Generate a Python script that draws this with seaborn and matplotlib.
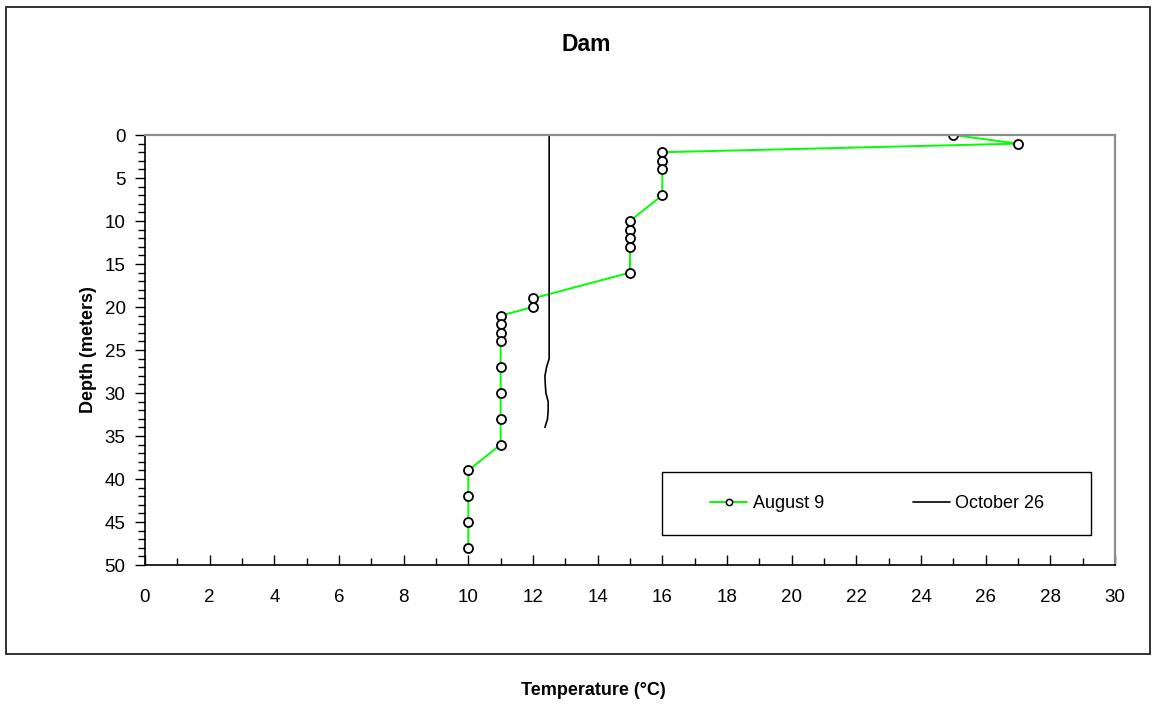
import matplotlib
matplotlib.use("Agg")
import matplotlib.pyplot as plt
import seaborn as sns
import pandas as pd
from matplotlib.patches import Rectangle
from matplotlib.ticker import MultipleLocator
from matplotlib.lines import Line2D

# ---- data ----
aug_temp = [25, 27, 16, 16, 16, 16, 15, 15, 15, 15, 15, 12, 12, 11, 11, 11, 11, 11, 11, 11, 11, 10, 10, 10, 10]
aug_depth = [0, 1, 2, 3, 4, 7, 10, 11, 12, 13, 16, 19, 20, 21, 22, 23, 24, 27, 30, 33, 36, 39, 42, 45, 48]

oct_depth = list(range(0, 35))
oct_temp = [12.5] * 27 + [12.42, 12.37, 12.38, 12.40, 12.47, 12.47, 12.45, 12.37]

title = "Dam"
xlabel = "Temperature (°C)"
ylabel = "Depth (meters)"
legend_labels = ["August 9", "October 26"]

sns.set_theme(style="white")
plt.rcParams["font.family"] = ["Liberation Sans", "DejaVu Sans"]
plt.rcParams["text.color"] = "black"
plt.rcParams["axes.labelcolor"] = "black"
plt.rcParams["xtick.color"] = "black"
plt.rcParams["ytick.color"] = "black"

fig = plt.figure(figsize=(11.59, 7.11), dpi=100)
fig.patch.set_facecolor("white")
ax = fig.add_axes([0.1251, 0.2053, 0.8369, 0.6048])

df_aug = pd.DataFrame({"t": aug_temp, "d": aug_depth})
df_oct = pd.DataFrame({"t": oct_temp, "d": oct_depth})

sns.lineplot(data=df_aug, x="t", y="d", sort=False, estimator=None, ax=ax,
             color="#00FF00", linewidth=1.4, marker="o", markersize=6.5,
             markerfacecolor="white", markeredgecolor="black", markeredgewidth=1.3)
sns.lineplot(data=df_oct, x="t", y="d", sort=False, estimator=None, ax=ax,
             color="black", linewidth=1.2)

ax.set_xlim(0, 30)
ax.set_ylim(50, 0)
ax.xaxis.set_major_locator(MultipleLocator(2))
ax.xaxis.set_minor_locator(MultipleLocator(1))
ax.yaxis.set_major_locator(MultipleLocator(5))
ax.yaxis.set_minor_locator(MultipleLocator(1))
ax.tick_params(axis="x", which="major", direction="in", length=7, width=1, colors="black",
               labelsize=13.5, pad=17, bottom=True)
ax.tick_params(axis="x", which="minor", direction="in", length=5, width=1, colors="black", bottom=True)
ax.tick_params(axis="y", which="major", direction="out", length=7, width=1, colors="black",
               labelsize=13.5, pad=7, left=True)
ax.tick_params(axis="y", which="minor", direction="out", length=5, width=1, colors="black", left=True)

for side in ["left", "bottom"]:
    ax.spines[side].set_color("black")
    ax.spines[side].set_linewidth(1.2)
for side in ["top", "right"]:
    ax.spines[side].set_color("#8c8c8c")
    ax.spines[side].set_linewidth(1.6)
ax.set_xlabel("")
ax.set_ylabel("")

# legend frame drawn as a box, entries centred inside it
ax.add_patch(Rectangle((0.533, 0.0698), 0.442, 0.146, transform=ax.transAxes,
                       fill=True, facecolor="white", edgecolor="black", linewidth=1.0, zorder=4))
handles = [
    Line2D([], [], color="#00FF00", linewidth=1.4, marker="o", markersize=4.5,
           markerfacecolor="white", markeredgecolor="black", markeredgewidth=1.1),
    Line2D([], [], color="black", linewidth=1.2),
]
leg = ax.legend(handles, legend_labels, ncol=2, loc="center",
                bbox_to_anchor=(0.533 + 0.442 / 2 + 0.001, 0.0698 + 0.146 / 2),
                fontsize=13, frameon=False, handlelength=2.05,
                handletextpad=0.3, columnspacing=4.9, borderpad=0.0, borderaxespad=0.0)
leg.set_zorder(5)

fig.text(0.506, 0.937, title, ha="center", va="center", fontsize=16.5, fontweight="bold")
fig.text(0.512, 0.0165, xlabel, ha="center", va="bottom", fontsize=13, fontweight="bold")
fig.text(0.076, 0.508, ylabel, ha="center", va="center", rotation=90, fontsize=13, fontweight="bold")

fig.patches.append(Rectangle((0.0052, 0.0802), 0.987, 0.9098, transform=fig.transFigure,
                             fill=False, edgecolor="#222222", linewidth=1.3))

fig.savefig("out.png", dpi=100, facecolor="white")
